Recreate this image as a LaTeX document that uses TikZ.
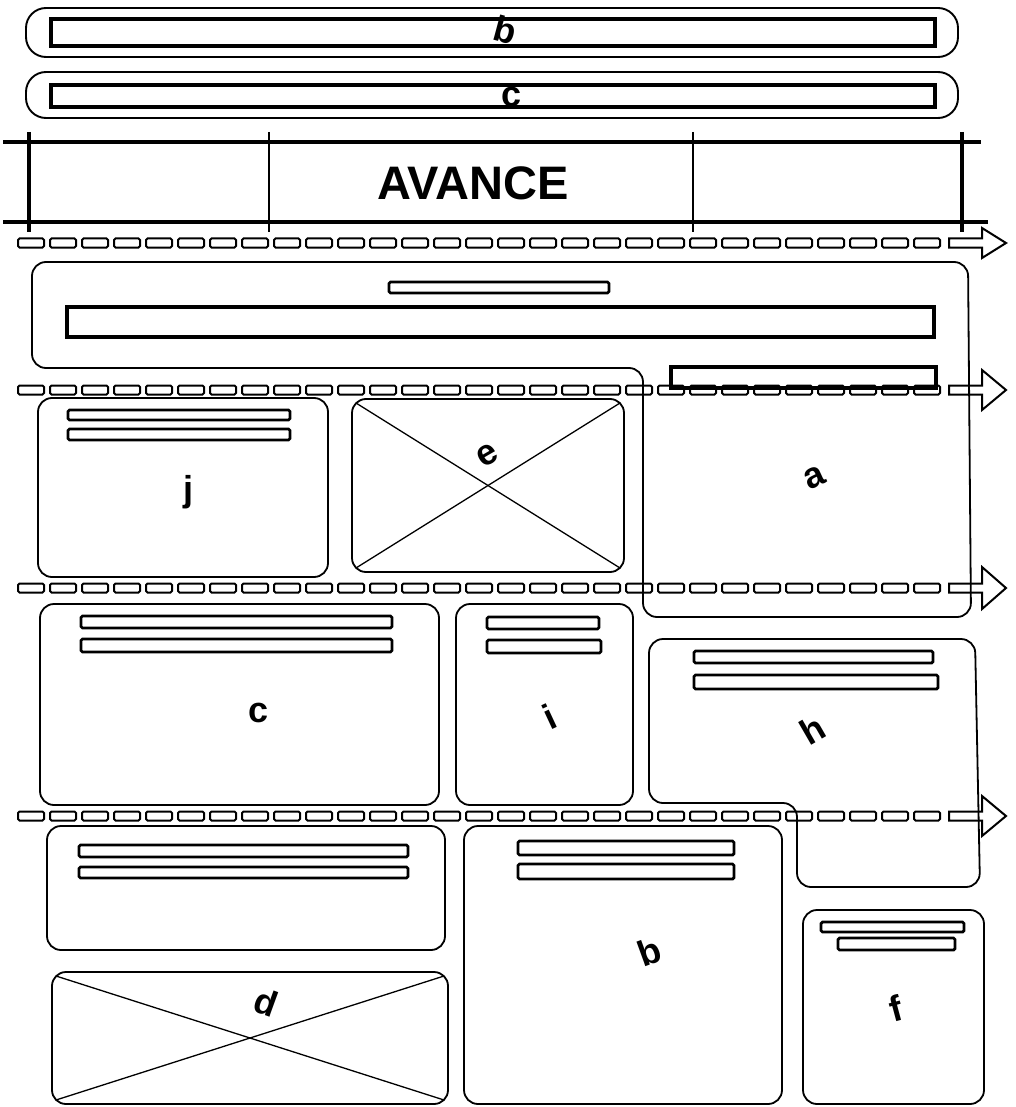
\documentclass[tikz,border=0pt]{standalone}
\usepackage{fontspec}
\setmainfont{Liberation Sans}
\begin{document}
\begin{tikzpicture}[x=1pt,y=-1pt,
  box/.style={line width=1.8pt, rounded corners=14pt},
  pill/.style={line width=1.9pt, rounded corners=20pt},
  bar/.style={line width=2.8pt, rounded corners=1.5pt},
  widebar/.style={line width=3.2pt},
  heavy/.style={line width=3.8pt},
  post/.style={line width=2.4pt},
  cross/.style={line width=1.3pt},
  dashcell/.style={line width=2pt, rounded corners=1.5pt},
  lbl/.style={font=\bfseries\fontsize{36}{40}\selectfont, inner sep=0pt}]

\fill[white] (0,0) rectangle (1015,1107);
\useasboundingbox (0,0) rectangle (1015,1107);

% ---- top bars b and c
\draw[pill] (26,8) rectangle (958,57);
\draw[widebar] (51,19) rectangle (935,46);
\node[lbl, rotate=-15] (lbtop) at (505,30) {b};
\draw[pill] (26,72) rectangle (958,118);
\draw[widebar] (51,85) rectangle (935,107);
\node[lbl] (lctop) at (512,97) {c};

% ---- AVANCE band
\draw[heavy] (3,142) -- (981,142);
\draw[heavy] (3,222) -- (988,222);
\draw[post, line width=3.2pt] (29,132) -- (29,232);
\draw[post] (269,132) -- (269,232);
\draw[post] (693,132) -- (693,232);
\draw[post, line width=3.2pt] (962,132) -- (962,232);
\node[font=\bfseries\fontsize{47}{50}\selectfont, inner sep=0pt] (avance) at (473,183) {AVANCE};

% ---- region a (header + right column)
\draw[box] (500,262) -- (968,262) -- (971,617) -- (643,617) -- (643,368) -- (32,368) -- (32,262) -- cycle;
\draw[bar] (389,282) rectangle (609,293);
\draw[widebar] (67,307) rectangle (934,337);
\draw[widebar] (671,367) rectangle (936,388);
\node[lbl, rotate=25] (la) at (815,478) {a};

% ---- j
\draw[box] (38,398) rectangle (328,577);
\draw[bar] (68,410) rectangle (290,420);
\draw[bar] (68,429) rectangle (290,440);
\node[lbl] (lj) at (188,492) {j};

% ---- e
\draw[box] (352,399) rectangle (624,572);
\draw[cross] (356,403) -- (620,568);
\draw[cross] (620,403) -- (356,568);
\node[lbl, rotate=30] (le) at (487,455) {e};

% ---- c (middle)
\draw[box] (40,604) rectangle (439,805);
\draw[bar] (81,616) rectangle (392,628);
\draw[bar] (81,639) rectangle (392,652);
\node[lbl] (lcmid) at (259,713) {c};

% ---- i
\draw[box] (456,604) rectangle (633,805);
\draw[bar] (487,617) rectangle (599,629);
\draw[bar] (487,640) rectangle (601,653);
\node[lbl, rotate=25] (li) at (550,717) {i};

% ---- h (L-shaped)
\draw[box] (800,639) -- (975,639) -- (980,887) -- (797,887) -- (797,803) -- (649,803) -- (649,639) -- cycle;
\draw[bar] (694,651) rectangle (933,663);
\draw[bar] (694,675) rectangle (938,689);
\node[lbl, rotate=30] (lh) at (812,730) {h};

% ---- lower left text box
\draw[box] (47,826) rectangle (445,950);
\draw[bar] (79,845) rectangle (408,857);
\draw[bar] (79,867) rectangle (408,878);

% ---- d
\draw[box] (52,972) rectangle (448,1104);
\draw[cross] (56,976) -- (444,1100);
\draw[cross] (444,976) -- (56,1100);
\node[lbl, rotate=-20] (ld) at (266,1002) {d};

% ---- b (lower)
\draw[box] (464,826) rectangle (782,1104);
\draw[bar] (518,841) rectangle (734,855);
\draw[bar] (518,864) rectangle (734,879);
\node[lbl, rotate=20] (lblow) at (649,952) {b};

% ---- f
\draw[box] (803,910) rectangle (984,1104);
\draw[bar] (821,922) rectangle (964,932);
\draw[bar] (838,938) rectangle (955,950);
\node[lbl, rotate=15] (lf) at (896,1008) {f};

% ---- dashed hollow arrows
\foreach \y/\h in {243/15,390/20,588/21,816/20}{
  \foreach \x in {18,50,...,914}
    \draw[dashcell] (\x,\y-4.5) rectangle (\x+26,\y+4.5);
  \draw[dashcell, rounded corners=0pt, line join=miter]
    (949,\y-4.5) -- (982,\y-4.5) -- (982,\y-\h) -- (1006,\y) -- (982,\y+\h) -- (982,\y+4.5) -- (949,\y+4.5) -- cycle;
}
\end{tikzpicture}
\end{document}
